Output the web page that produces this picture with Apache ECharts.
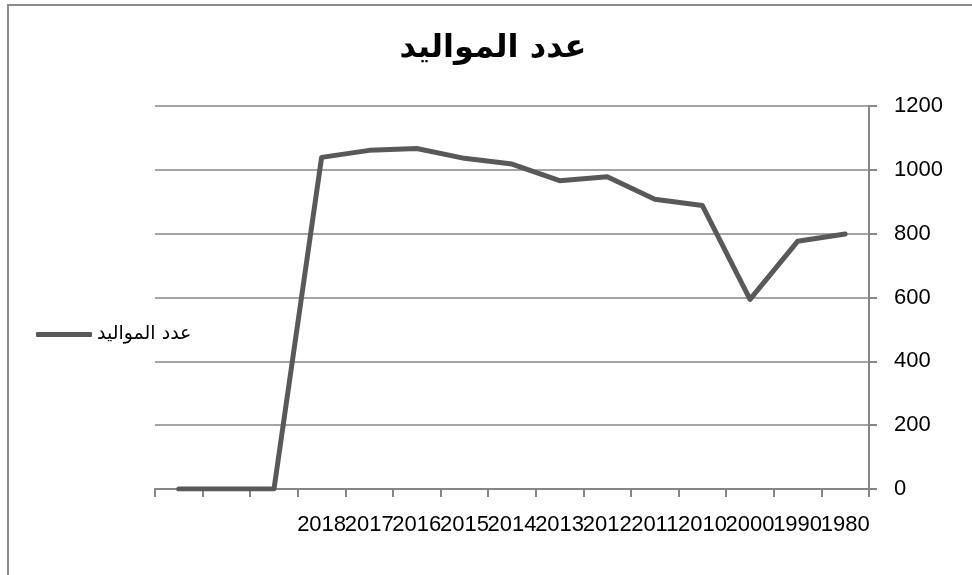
<!DOCTYPE html>
<html>
<head>
<meta charset="utf-8">
<script src="https://cdn.jsdelivr.net/npm/echarts@6/dist/echarts.min.js"></script>
<style>html,body{margin:0;padding:0;background:#fff;}#c{width:972px;height:575px;}</style>
</head>
<body>
<div id="c"></div>
<script>
const titleText = 'عدد المواليد';
const seriesName = 'عدد المواليد';
const categories = ['', '', '', '2018', '2017', '2016', '2015', '2014', '2013', '2012', '2011', '2010', '2000', '1990', '1980'];
const births = [0, 0, 0, 1039, 1061, 1067, 1036, 1018, 966, 978, 908, 888, 594, 776, 799];
const yTicks = { min: 0, max: 1200, interval: 200 };

const chart = echarts.init(document.getElementById('c'), null, { renderer: 'canvas' });
chart.setOption({
  backgroundColor: '#fff',
  animation: false,
  graphic: [{
    type: 'rect', shape: { x: 8, y: 5, width: 1000, height: 600 },
    style: { fill: 'none', stroke: '#8c8c8c', lineWidth: 2 }, silent: true
  }],
  title: {
    text: titleText, left: 488, top: 28, textAlign: 'center',
    textStyle: { fontFamily: 'DejaVu Sans', fontWeight: 'bold', fontSize: 32, color: '#000' }
  },
  legend: {
    left: 31, top: 320, icon: 'roundRect', itemWidth: 56, itemHeight: 5, itemGap: 6,
    textStyle: { fontFamily: 'DejaVu Sans', fontSize: 19, color: '#000' },
    data: [seriesName]
  },
  grid: { left: 155, right: 103, top: 106, bottom: 86, containLabel: false },
  xAxis: {
    type: 'category', data: categories, boundaryGap: true,
    axisLine: { lineStyle: { color: '#868686', width: 2 } },
    axisTick: { show: true, length: 8, inside: false, lineStyle: { color: '#868686', width: 2 } },
    axisLabel: { interval: 0, margin: 25, fontFamily: 'Liberation Sans', fontSize: 22, color: '#000' },
    splitLine: { show: false }
  },
  yAxis: {
    type: 'value', position: 'right', min: yTicks.min, max: yTicks.max, interval: yTicks.interval,
    axisLine: { show: true, lineStyle: { color: '#868686', width: 2 } },
    axisTick: { show: true, length: 8, lineStyle: { color: '#868686', width: 2 } },
    axisLabel: { margin: 25, fontFamily: 'Liberation Sans', fontSize: 22, color: '#000',
      formatter: function (v) { return String(v); } },
    splitLine: { show: true, lineStyle: { color: '#868686', width: 1.5 } }
  },
  series: [{
    name: seriesName, type: 'line', data: births, showSymbol: false, symbol: 'none',
    lineStyle: { color: '#595959', width: 5, join: 'round', cap: 'round' },
    itemStyle: { color: '#595959' }
  }]
});
</script>
</body>
</html>
